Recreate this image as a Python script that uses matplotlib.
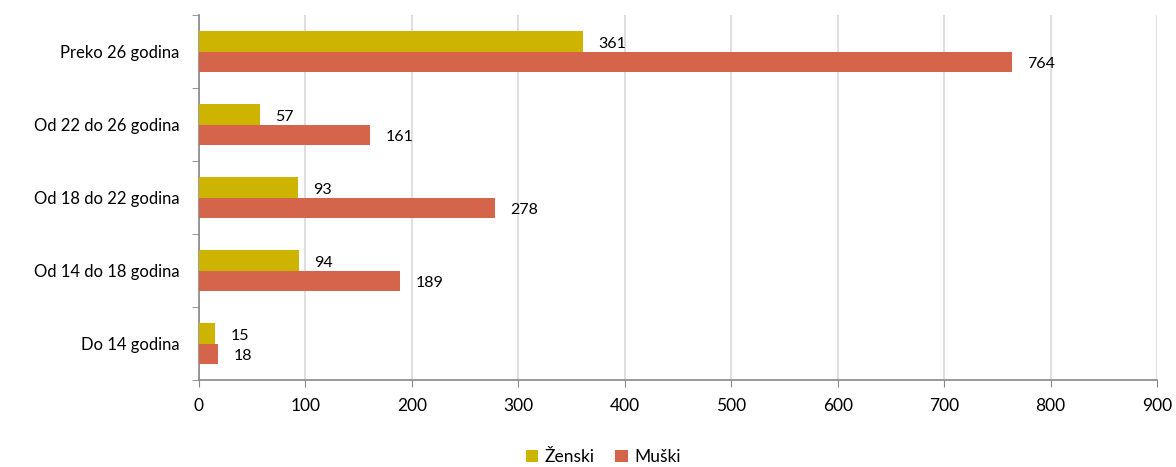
import matplotlib.pyplot as plt
import numpy as np

# Data
categories = ['Do 14 godina', 'Od 14 do 18 godina', 'Od 18 do 22 godina',
              'Od 22 do 26 godina', 'Preko 26 godina']
zenski = [15, 94, 93, 57, 361]
muski = [18, 189, 278, 161, 764]

plt.rcParams['font.family'] = ['Lato', 'DejaVu Sans']

fig = plt.figure(figsize=(11.76, 4.67), dpi=100)
ax = fig.add_axes([199/1176, 1 - 380/467, (1157-199)/1176, (380-15)/467])

y = np.arange(len(categories))
h = 0.275
bz = ax.barh(y + h/2, zenski, height=h, color='#CCB400', label='Ženski', zorder=3)
bm = ax.barh(y - h/2, muski, height=h, color='#D4654A', label='Muški', zorder=3)

# value labels
for bars in (bz, bm):
    for bar in bars:
        w = bar.get_width()
        ax.annotate(str(int(w)), (w, bar.get_y() + bar.get_height()/2),
                    xytext=(11, -2), textcoords='offset points',
                    ha='left', va='center', fontsize=11.5)

ax.set_xlim(0, 900)
ax.set_ylim(-0.5, len(categories) - 0.5)
ax.set_xticks(range(0, 901, 100))
ax.set_yticks(y)
ax.set_yticklabels(categories, fontsize=12)
ax.set_yticks(np.arange(-0.5, len(categories), 1), minor=True)
ax.tick_params(axis='y', which='major', length=0, pad=14)
ax.tick_params(axis='y', which='minor', length=5, color='#878787', direction='out')
ax.tick_params(axis='x', length=5, color='#878787', labelsize=12.5, pad=8)

ax.grid(axis='x', color='#D9D9D9', linewidth=1.2, zorder=0)
for s in ('top', 'right'):
    ax.spines[s].set_visible(False)
for s in ('left', 'bottom'):
    ax.spines[s].set_color('#878787')
    ax.spines[s].set_linewidth(1.2)

fig.legend(loc='center', bbox_to_anchor=(0.513, 1 - 457/467), ncol=2, frameon=False,
           fontsize=12.5, handlelength=0.7, handleheight=0.7, columnspacing=1.2,
           handletextpad=0.4)

fig.savefig('out.png', dpi=100)
